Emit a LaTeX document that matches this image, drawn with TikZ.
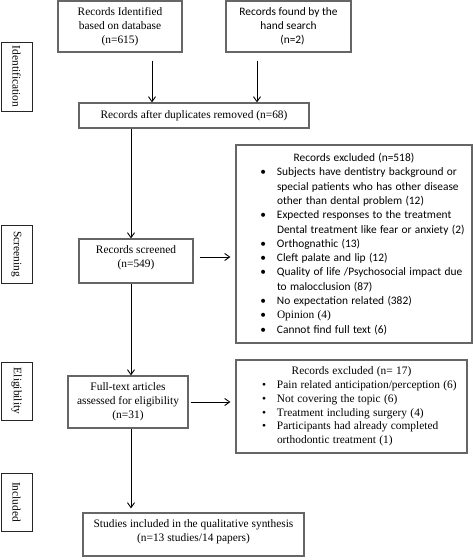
\documentclass[tikz,border=0pt]{standalone}
\usepackage{fontspec}
\setmainfont{Liberation Serif}
\newfontfamily\calfont{Carlito}
\usetikzlibrary{arrows.meta}
\newcommand{\bul}{\par\leavevmode\llap{\textbullet\hspace{11pt}}}
\begin{document}
\begin{tikzpicture}[x=1pt,y=-1pt,
  box/.style={draw=black!60, line width=1.1pt, inner sep=0pt, align=center, font=\fontsize{11.4}{14}\selectfont},
  lbox/.style={draw=black!60, line width=1.1pt, inner xsep=2pt, inner ysep=0pt, align=left},
  lab/.style={draw=black!85, line width=0.9pt, inner sep=0pt, rotate=-90, minimum height=31pt, font=\fontsize{11.4}{14}\selectfont},
  arr/.style={draw=black, line width=0.9pt, -{Straight Barb[length=5pt,width=7pt]}}]
\useasboundingbox (0,0) rectangle (473,557);
\hfuzz=40pt \hbadness=10000
% left stage labels
\node[lab, minimum width=69pt] (lid) at (16.5,76.5) {Identification};
\node[lab, minimum width=58pt] (lsc) at (16.5,254) {Screening};
\node[lab, minimum width=58pt] (lel) at (16.5,391) {Eligibility};
\node[lab, minimum width=58pt] (lin) at (16.5,502) {Included};
% boxes
\node[box, minimum width=124pt, minimum height=51pt] (id1) at (120,26.5) {Records Identified\\based on database\\(n=615)};
\node[box, minimum width=125pt, minimum height=51pt, font=\calfont\fontsize{11.4}{14}\selectfont] (id2) at (288.5,26.5) {Records found by the\\hand search\\\hspace*{8pt}(n=2)};
\node[box, minimum width=230pt, minimum height=25pt] (dup) at (194,115.5) {Records after duplicates removed (n=68)};
\node[box, minimum width=114pt, minimum height=44pt] (scr) at (136,261) {Records screened\\(n=549)\\[-6pt]};
\node[lbox, minimum width=236pt, minimum height=198pt, text width=232pt] (ex1) at (354,244) {\calfont\fontsize{11.4}{14.3}\selectfont
{\centering Records excluded (n=518)\par}
\leftskip=39pt \rightskip=0pt plus 1fil \parindent=0pt
\bul Subjects have dentistry background or\\special patients who has other disease\\other than dental problem (12)
\bul Expected responses to the treatment\\Dental treatment like fear or anxiety (2)
\bul Orthognathic (13)
\bul Cleft palate and lip (12)
\bul Quality of life /Psychosocial impact due\\to malocclusion (87)
\bul No expectation related (382)
\bul {\rmfamily Opinion (4)}
\bul Cannot find full text (6)\par};
\node[box, minimum width=120pt, minimum height=52pt] (full) at (128,402) {Full-text articles\\assessed for eligibility\\(n=31)};
\node[lbox, minimum width=231pt, minimum height=93pt, text width=227pt] (ex2) at (351.5,406.5) {\fontsize{11.4}{13.8}\selectfont
{\centering Records excluded (n= 17)\par}
\leftskip=39pt \rightskip=0pt plus 1fil \parindent=0pt
\bul Pain related anticipation/perception (6)
\bul Not covering the topic (6)
\bul Treatment including surgery (4)
\bul Participants had already completed\\orthodontic treatment (1)\par};
\node[box, minimum width=221pt, minimum height=43pt] (stud) at (193.5,534.5) {Studies included in the qualitative synthesis\\(n=13 studies/14 papers)\\[-7pt]};
% connectors
\draw[arr] ([xshift=32pt,yshift=-8pt]id1.south) -- ([xshift=32pt]id1.south |- dup.north);
\draw[arr] ([xshift=-31.5pt,yshift=-8pt]id2.south) -- ([xshift=-31.5pt]id2.south |- dup.north);
\draw[arr] ([xshift=-5pt]scr.north |- dup.south) -- ([xshift=-5pt]scr.north);
\draw[arr] ([xshift=6pt,yshift=4pt]scr.east) -- ([xshift=-5pt,yshift=4pt]scr.east -| ex1.west);
\draw[arr] ([xshift=-5pt]scr.south) -- ([xshift=-5pt]scr.south |- full.north);
\draw[arr] ([xshift=2pt]full.east) -- ([xshift=-5pt]full.east -| ex2.west);
\draw[arr, shorten >=4pt] ([xshift=3pt]full.south) -- ([xshift=3pt]full.south |- stud.north);
\end{tikzpicture}
\end{document}
